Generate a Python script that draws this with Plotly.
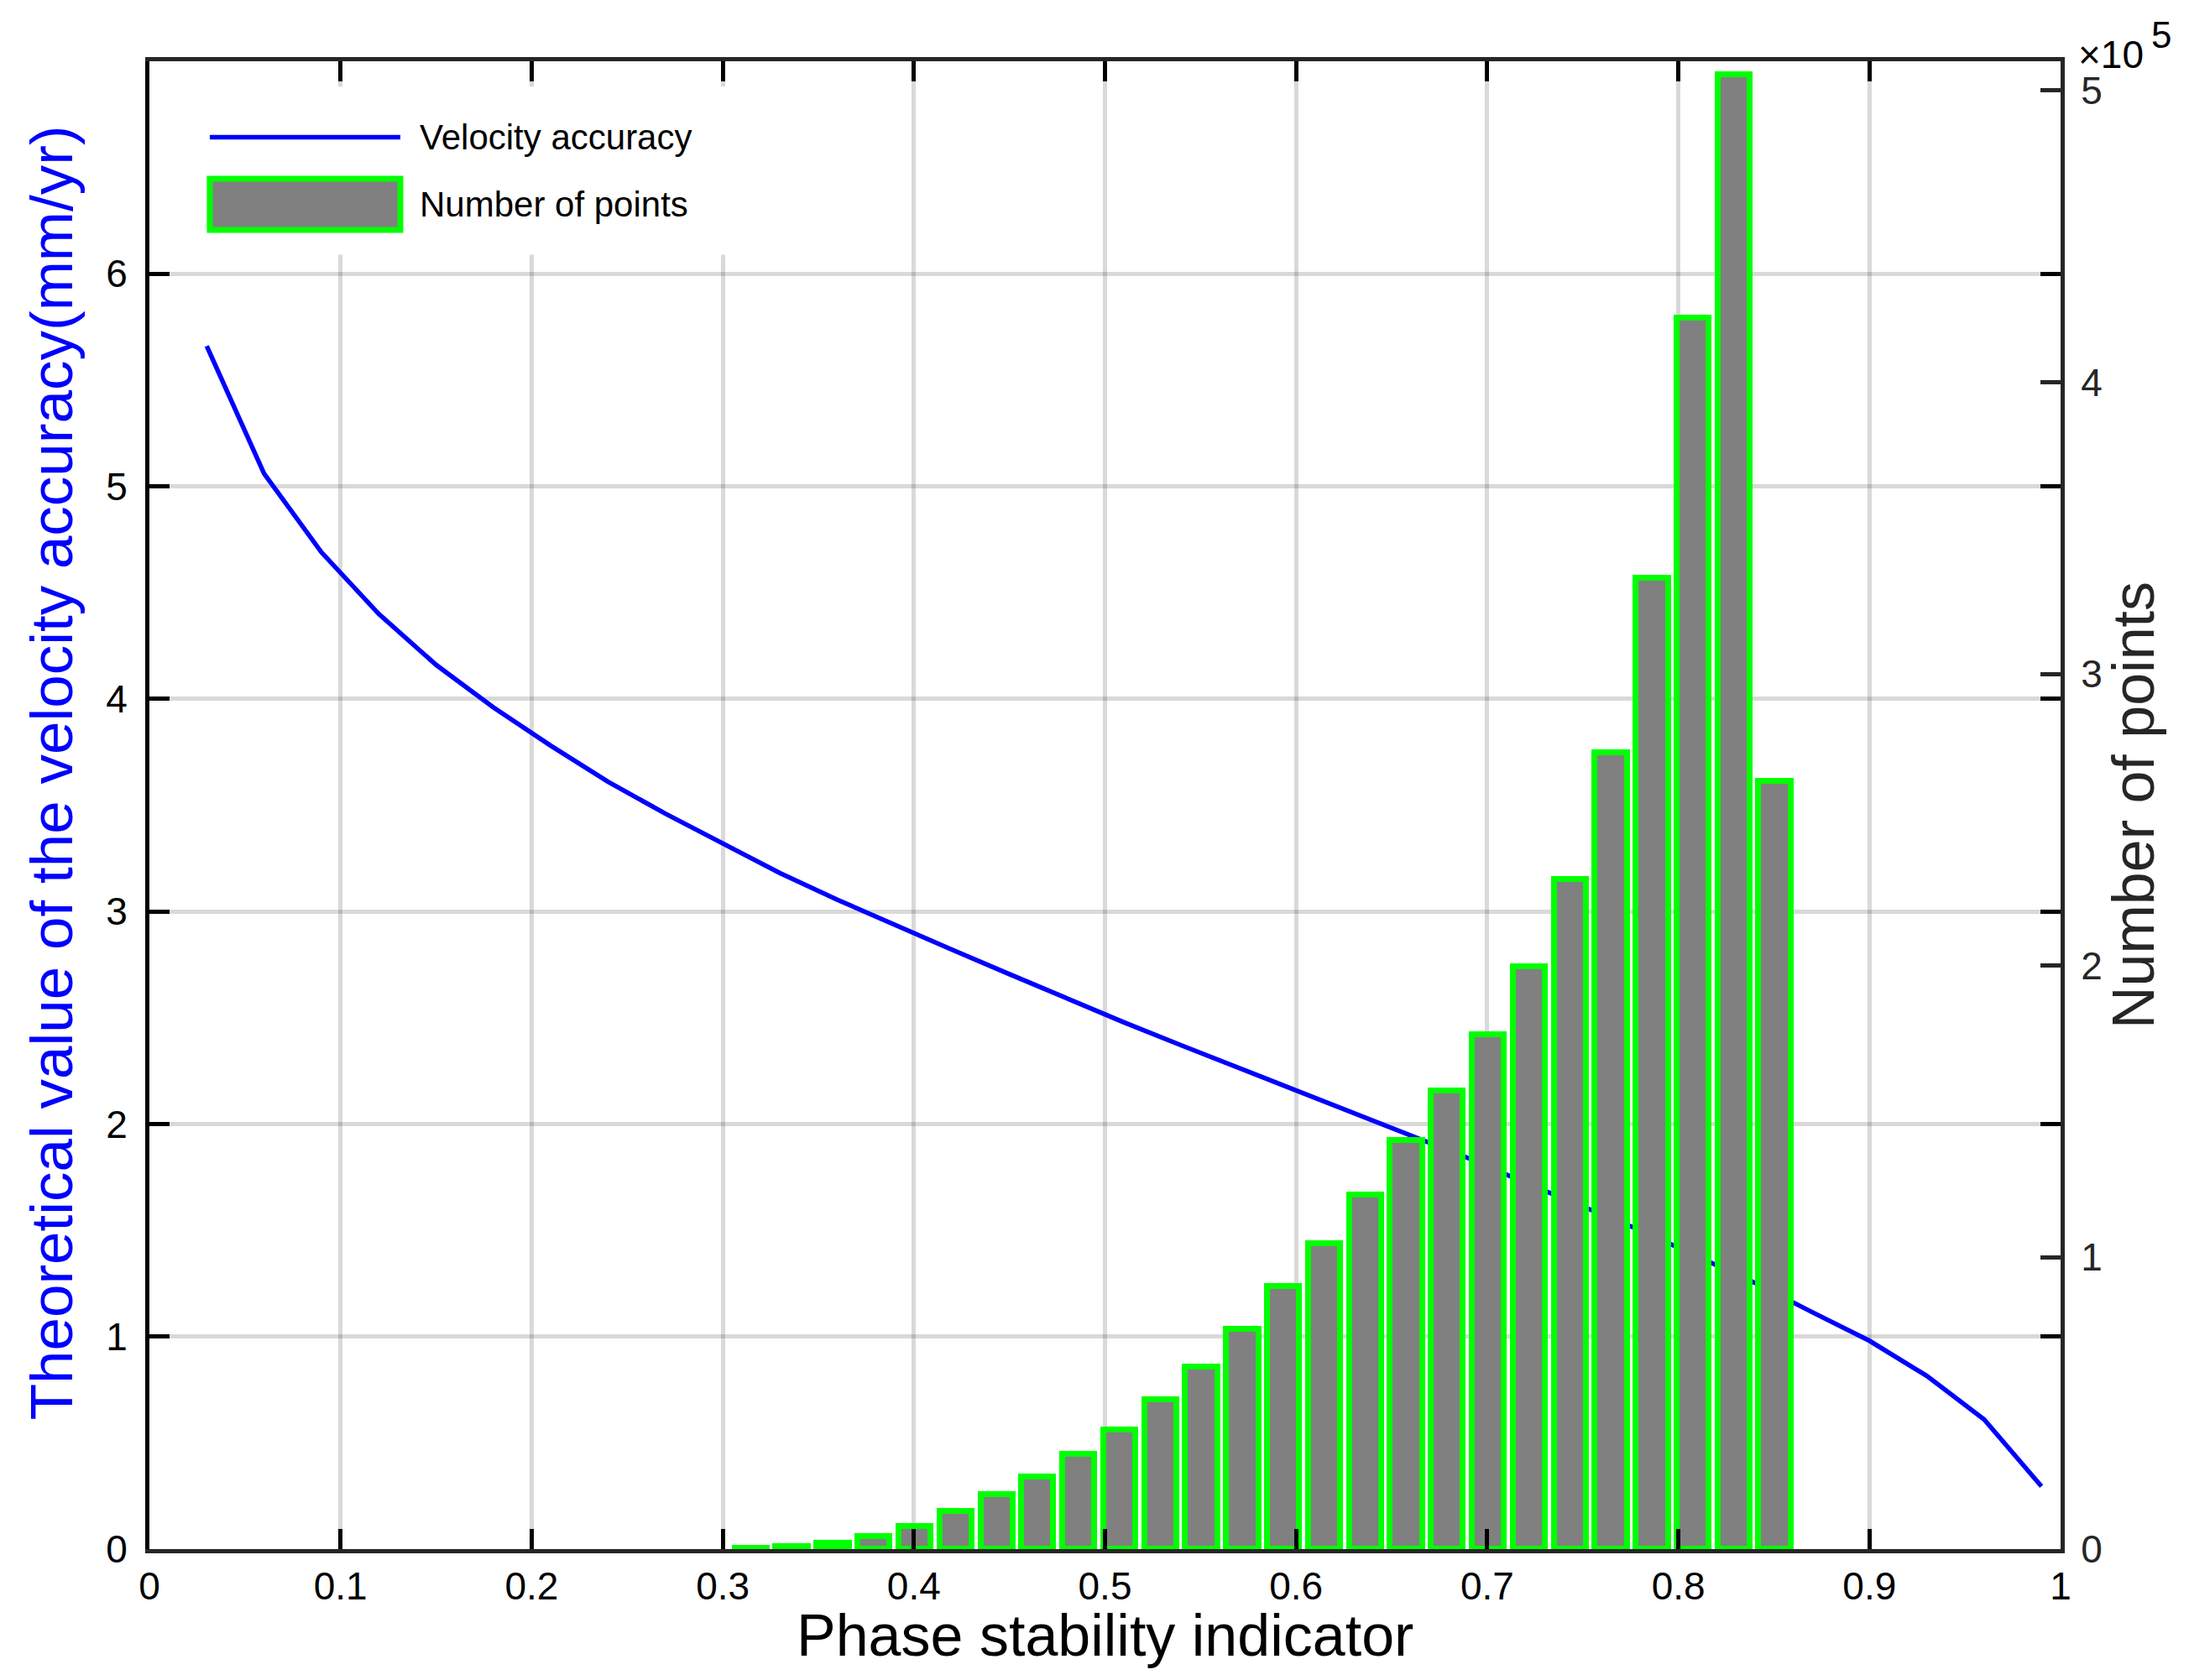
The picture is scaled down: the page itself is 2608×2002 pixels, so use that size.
import plotly.graph_objects as go

# velocity accuracy curve (left axis, mm/yr)
psi = [0.03, 0.06, 0.09, 0.12, 0.15, 0.18, 0.21, 0.24, 0.27, 0.30, 0.33,
       0.36, 0.39, 0.42, 0.45, 0.48, 0.51, 0.54, 0.57, 0.60, 0.63, 0.66,
       0.69, 0.72, 0.75, 0.78, 0.81, 0.84, 0.87, 0.90, 0.93, 0.96, 0.99]
accuracy = [5.66, 5.06, 4.69, 4.40, 4.16, 3.96, 3.78, 3.61, 3.46, 3.317, 3.18,
            3.055, 2.935, 2.82, 2.705, 2.59, 2.478, 2.37, 2.263, 2.158, 2.05, 1.945,
            1.84, 1.723, 1.61, 1.50, 1.377, 1.253, 1.115, 0.98, 0.815, 0.61, 0.295]

# histogram of points (right axis)
bin_centers = [0.3148, 0.3362, 0.3577, 0.3791, 0.4005, 0.4220, 0.4434, 0.4648,
               0.4862, 0.5077, 0.5291, 0.5505, 0.5720, 0.5934, 0.6148, 0.6363,
               0.6577, 0.6791, 0.7005, 0.7220, 0.7434, 0.7648, 0.7863, 0.8077,
               0.8291, 0.8505]
counts = [300, 800, 1900, 4200, 7700, 12900, 18700, 24700,
          32500, 40900, 51200, 62500, 75500, 89900, 104800, 121500,
          140000, 157200, 176200, 199700, 229600, 273000, 332700, 422000,
          505500, 263300]

x_ticks = [0, 0.1, 0.2, 0.3, 0.4, 0.5, 0.6, 0.7, 0.8, 0.9, 1]
x_ticktext = ["0", "0.1", "0.2", "0.3", "0.4", "0.5", "0.6", "0.7", "0.8", "0.9", "1"]
y_ticks = [0, 1, 2, 3, 4, 5, 6]
y2_ticks = [0, 100000, 200000, 300000, 400000, 500000]
y2_ticktext = ["0", "1", "2", "3", "4", "5"]

FONT = "Liberation Sans, Arial, Helvetica, sans-serif"
GRID = "rgba(0,0,0,0.15)"
DARK = "#262626"
TICK_SIZE = 46

fig = go.Figure()

fig.add_trace(go.Scatter(
    x=psi, y=accuracy, mode="lines", name="Velocity accuracy",
    line=dict(color="#0000ff", width=5.5), showlegend=False,
))

fig.add_trace(go.Bar(
    x=bin_centers, y=counts, name="Number of points", yaxis="y2",
    width=0.0168,
    marker=dict(color="#808080", line=dict(color="#00ff00", width=7)),
    showlegend=False,
))

# page body has an 8px margin, so the figure is shrunk by that much
fig.update_layout(
    width=2592, height=1986,
    margin=dict(l=170, r=145, t=65, b=148),
    paper_bgcolor="white", plot_bgcolor="white",
    font=dict(family=FONT, size=42, color="black"),
    xaxis=dict(
        range=[0, 1], tickvals=x_ticks, ticktext=x_ticktext,
        showgrid=True, gridcolor=GRID, gridwidth=5,
        showline=True, linecolor=DARK, linewidth=5, mirror="ticks",
        ticks="inside", ticklen=24, tickwidth=5, tickcolor="black",
        ticklabelstandoff=0, zeroline=False,
        tickfont=dict(size=TICK_SIZE, color="black"),
    ),
    yaxis=dict(
        range=[0, 7], tickvals=y_ticks,
        showgrid=True, gridcolor=GRID, gridwidth=5,
        showline=True, linecolor="black", linewidth=5, mirror="ticks",
        ticks="inside", ticklen=24, tickwidth=5, tickcolor="black",
        ticklabelstandoff=12, zeroline=False,
        tickfont=dict(size=TICK_SIZE, color="black"),
    ),
    yaxis2=dict(
        overlaying="y", side="right", range=[0, 510000],
        tickvals=y2_ticks, ticktext=y2_ticktext,
        showgrid=False, zeroline=False,
        showline=True, linecolor=DARK, linewidth=5,
        ticks="inside", ticklen=24, tickwidth=5, tickcolor=DARK,
        ticklabelstandoff=10,
        tickfont=dict(size=TICK_SIZE, color=DARK),
    ),
    bargap=0,
)

# hand-drawn legend box (covers the grid like the original)
shapes = [
    dict(type="rect", xref="paper", yref="paper", x0=0.0097, x1=0.308,
         y0=0.870, y1=0.983, fillcolor="white", line=dict(width=0), layer="above"),
    dict(type="line", xref="paper", yref="paper", x0=0.0316, x1=0.1313,
         y0=0.949, y1=0.949, line=dict(color="#0000ff", width=5.5), layer="above"),
    dict(type="rect", xref="paper", yref="paper", x0=0.0316, x1=0.1313,
         y0=0.8866, y1=0.921, fillcolor="#808080",
         line=dict(color="#00ff00", width=7), layer="above"),
]
fig.update_layout(shapes=shapes)

annotations = [
    dict(text="Velocity accuracy", x=0.1405, y=0.949, xref="paper", yref="paper",
         xanchor="left", yanchor="middle", showarrow=False,
         font=dict(size=42, color="black")),
    dict(text="Number of points", x=0.1405, y=0.904, xref="paper", yref="paper",
         xanchor="left", yanchor="middle", showarrow=False,
         font=dict(size=42, color="black")),
    dict(text="Phase stability indicator", x=0.5, y=-0.058, xref="paper", yref="paper",
         xanchor="center", yanchor="middle", showarrow=False,
         font=dict(size=70, color="black")),
    dict(text="Theoretical value of the velocity accuracy(mm/yr)", x=-0.051, y=0.522,
         xref="paper", yref="paper", xanchor="center", yanchor="middle",
         textangle=-90, showarrow=False, font=dict(size=71, color="#0000ff")),
    dict(text="Number of points", x=1.038, y=0.5, xref="paper", yref="paper",
         xanchor="center", yanchor="middle", textangle=-90, showarrow=False,
         font=dict(size=70, color=DARK)),
    dict(text="×10", x=1.0085, y=0.989, xref="paper", yref="paper",
         xanchor="left", yanchor="bottom", showarrow=False,
         font=dict(size=46, color="black")),
    dict(text="5", x=1.0466, y=1.003, xref="paper", yref="paper",
         xanchor="left", yanchor="bottom", showarrow=False,
         font=dict(size=44, color="black")),
]
fig.update_layout(annotations=annotations)

fig.write_html("out.html")
